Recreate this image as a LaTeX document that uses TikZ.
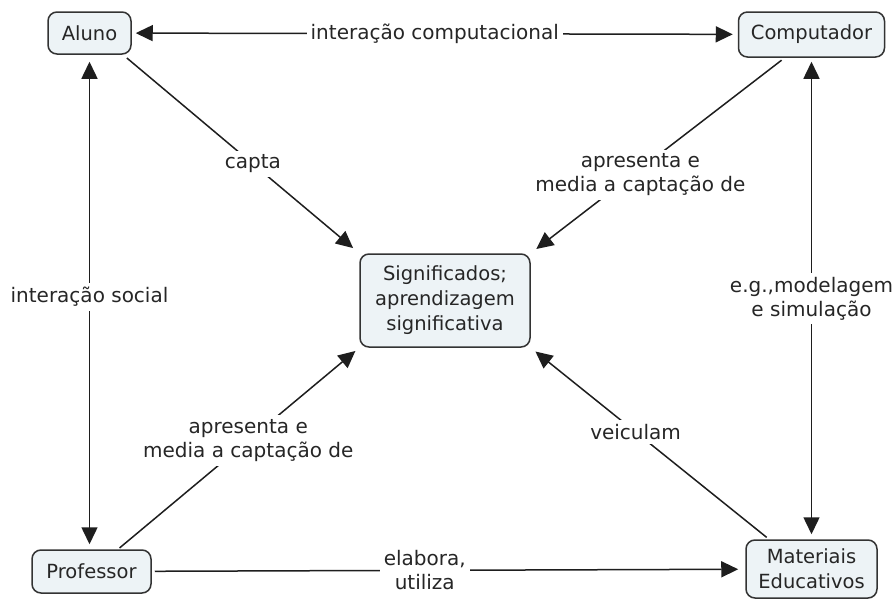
\documentclass[tikz,border=0pt]{standalone}
\usepackage{fontspec}
\setmainfont{DejaVu Sans}
\usetikzlibrary{arrows.meta}
\definecolor{boxfill}{HTML}{EDF3F6}
\definecolor{boxline}{HTML}{333333}
\definecolor{inkc}{HTML}{262626}
\definecolor{linec}{HTML}{1E1E1E}
\begin{document}
\begin{tikzpicture}[x=1pt,y=-1pt,
  concept/.style={draw=boxline,line width=1.5pt,fill=boxfill,rounded corners=9pt,
    align=center,text=inkc,inner sep=0pt,font=\fontsize{19.5}{25}\selectfont},
  link/.style={draw=linec,line width=1.5pt,-{Triangle[length=17pt,width=16pt]}},
  blink/.style={draw=linec,line width=1.5pt,{Triangle[length=17pt,width=16pt]}-{Triangle[length=17pt,width=16pt]}},
  lbl/.style={fill=white,inner sep=4pt,align=center,text=inkc,font=\fontsize{20}{24}\selectfont}]
\useasboundingbox (0,0) rectangle (895,600);
\fill[white] (0,0) rectangle (895,600);

\node[concept,minimum width=83pt,minimum height=42pt] (aluno) at (89.5,33) {Aluno};
\node[concept,minimum width=146pt,minimum height=45pt] (comp) at (811.5,34.5) {Computador};
\node[concept,minimum width=170pt,minimum height=93pt] (sig) at (445,300.5) {Significados;\\aprendizagem\\significativa};
\node[concept,minimum width=119pt,minimum height=43pt] (prof) at (91.5,571.5) {Professor};
\node[concept,minimum width=131pt,minimum height=58pt] (mat) at (811.5,569) {Materiais\\Educativos};

% top horizontal
\draw[blink,shorten <=4pt,shorten >=5pt] (aluno) -- node[lbl,pos=0.5] {interação computacional} (comp);
% left vertical
\draw[blink,shorten <=7pt,shorten >=5pt] (aluno.south) -- node[lbl,pos=0.49] {interação social} (aluno.south |- prof.north);
% right vertical
\draw[blink,shorten <=4pt,shorten >=5pt] (comp.south) -- node[lbl,pos=0.5] {e.g.,modelagem\\e simulação} (comp.south |- mat.north);
% bottom horizontal
\draw[link,shorten <=3pt,shorten >=7pt] (prof) -- node[lbl,pos=0.46] {elabora,\\utiliza} (mat);
% diagonals
\draw[link,shorten <=5pt,shorten >=8pt] (aluno.-33) -- node[lbl,pos=0.55] {capta} (sig.north west);
\draw[link,shorten <=4pt,shorten >=7pt] (comp.-139) -- node[lbl,pos=0.6,xshift=8pt] {apresenta e\\media a captação de} (sig.north east);
\draw[link,shorten <=2pt,shorten >=5pt] (prof.40) -- node[lbl,pos=0.54] {apresenta e\\media a captação de} (sig.south west);
\draw[link,shorten <=3pt,shorten >=6pt] (mat.145) -- node[lbl,pos=0.56] {veiculam} (sig.south east);
\end{tikzpicture}
\end{document}
